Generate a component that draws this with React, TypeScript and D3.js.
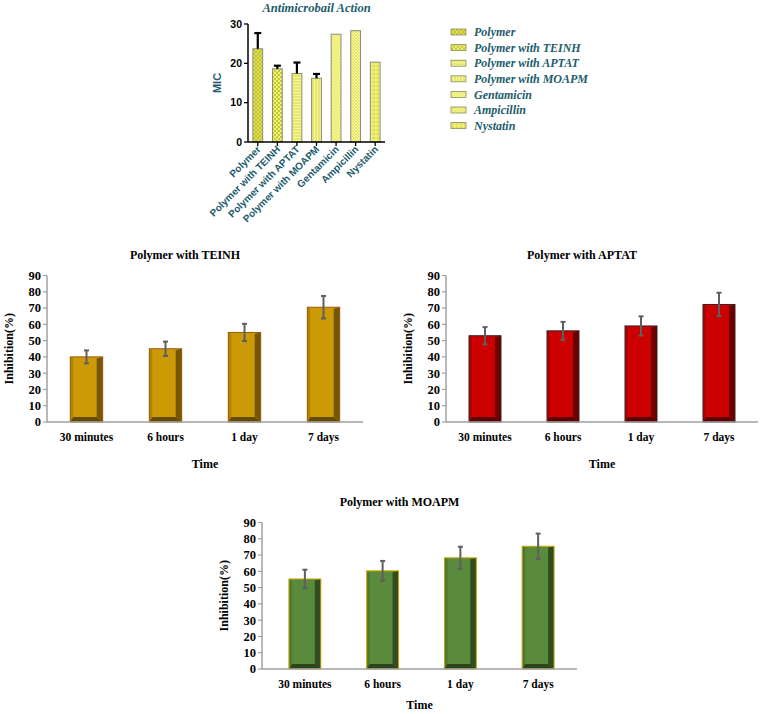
import React from "react";
import * as d3 from "d3";

// top chart data (MIC)
const micCategories = [
  "Polymer",
  "Polymer with TEINH",
  "Polymer with APTAT",
  "Polymer with MOAPM",
  "Gentamicin",
  "Ampicillin",
  "Nystatin",
];
const micValues = [23.7, 18.6, 17.4, 16.2, 27.4, 28.3, 20.3];
const micErrors = [4.0, 0.8, 2.8, 1.1, 0, 0, 0];
const micTicks = [0, 10, 20, 30];

// inhibition charts data
const timeLabels = ["30 minutes", "6 hours", "1 day", "7 days"];
const teinhValues = [40, 45, 55, 70.5];
const teinhErrors = [4, 4.4, 5.3, 6.9];
const aptatValues = [53, 56, 59, 72.2];
const aptatErrors = [5.3, 5.5, 5.9, 7.2];
const moapmValues = [55.3, 60.3, 68.3, 75.4];
const moapmErrors = [5.7, 6.1, 6.8, 7.8];
const inhibitionTicks = [0, 10, 20, 30, 40, 50, 60, 70, 80, 90];

const TEAL = "#1d5c6c";
const SERIF = "'Liberation Serif', 'Times New Roman', serif";
const SANS = "'Liberation Sans', Arial, sans-serif";

const patternIds = ["pPoly", "pTeinh", "pAptat", "pMoapm", "pGenta", "pAmpi", "pNyst"];

const Patterns = () => (
  <defs>
    <pattern id="pPoly" width="4" height="4" patternUnits="userSpaceOnUse">
      <rect width="4" height="4" fill="#dede52" />
      <path d="M0,4 L4,0 M0,0 L4,4" stroke="#b8b82e" strokeWidth="0.7" />
    </pattern>
    <pattern id="pTeinh" width="4" height="4" patternUnits="userSpaceOnUse">
      <rect width="4" height="4" fill="#f0f080" />
      <rect width="2" height="2" fill="#c8c830" />
      <rect x="2" y="2" width="2" height="2" fill="#c8c830" />
    </pattern>
    <pattern id="pAptat" width="3" height="3" patternUnits="userSpaceOnUse">
      <rect width="3" height="3" fill="#f8f890" />
      <path d="M0,1 L3,1" stroke="#d4d45a" strokeWidth="1" />
    </pattern>
    <pattern id="pMoapm" width="3" height="3" patternUnits="userSpaceOnUse">
      <rect width="3" height="3" fill="#f8f890" />
      <path d="M1,0 L1,3" stroke="#d4d45a" strokeWidth="1" />
    </pattern>
    <pattern id="pGenta" width="3" height="3" patternUnits="userSpaceOnUse">
      <rect width="3" height="3" fill="#f8f88e" />
      <path d="M0,3 L3,0" stroke="#dcdc60" strokeWidth="0.8" />
    </pattern>
    <pattern id="pAmpi" width="3" height="3" patternUnits="userSpaceOnUse">
      <rect width="3" height="3" fill="#f6f68a" />
      <path d="M0,0 L3,3" stroke="#d6d65c" strokeWidth="0.8" />
    </pattern>
    <pattern id="pNyst" width="4" height="4" patternUnits="userSpaceOnUse">
      <rect width="4" height="4" fill="#f6f67e" />
      <path d="M0,2 L4,2 M2,0 L2,4" stroke="#cfcf4a" strokeWidth="0.8" />
    </pattern>
  </defs>
);

const MicChart = () => {
  const left = 248;
  const right = 385;
  const top = 24;
  const bottom = 142;
  const x = d3.scaleBand().domain(micCategories).range([left, right]).paddingInner(0.5).paddingOuter(0.25);
  const y = d3.scaleLinear().domain([0, 30]).range([bottom, top]);
  return (
    <g>
      <text x={(left + right) / 2} y={12} textAnchor="middle" fontFamily={SERIF} fontWeight="bold" fontStyle="italic" fontSize={12.5} fill={TEAL}>
        Antimicrobail Action
      </text>
      {micCategories.map((c, i) => {
        const bx = x(c)!;
        const cx = bx + x.bandwidth() / 2;
        const yv = y(micValues[i]);
        const ye = y(micValues[i] + micErrors[i]);
        return (
          <g key={c}>
            <rect x={bx} y={yv} width={x.bandwidth()} height={bottom - yv} fill={"url(#" + patternIds[i] + ")"} stroke="#8c8c78" strokeWidth={1} />
            {micErrors[i] > 0 && (
              <g stroke="#000" strokeWidth={2.2}>
                <line x1={cx} x2={cx} y1={yv} y2={ye} />
                <line x1={cx - 3.5} x2={cx + 3.5} y1={ye} y2={ye} />
              </g>
            )}
            <line x1={cx} x2={cx} y1={bottom} y2={bottom + 4} stroke="#000" strokeWidth={1.3} />
            <text transform={`translate(${cx + 3.5},${bottom + 8}) rotate(-45)`} textAnchor="end" fontFamily={SANS} fontWeight="bold" fontSize={10} fill={TEAL}>
              {c}
            </text>
          </g>
        );
      })}
      <line x1={left} x2={right} y1={bottom} y2={bottom} stroke="#000" strokeWidth={1.5} />
      <line x1={left} x2={left} y1={top} y2={bottom} stroke="#000" strokeWidth={1.5} />
      {micTicks.map((t) => (
        <g key={t}>
          <line x1={left - 4} x2={left} y1={y(t)} y2={y(t)} stroke="#000" strokeWidth={1.3} />
          <text x={left - 6} y={y(t)} dy="0.35em" textAnchor="end" fontFamily={SANS} fontWeight="bold" fontSize={10.5} fill="#000">
            {t}
          </text>
        </g>
      ))}
      <text transform={`translate(221,${(top + bottom) / 2}) rotate(-90)`} textAnchor="middle" fontFamily={SANS} fontWeight="bold" fontSize={11} fill={TEAL}>
        MIC
      </text>
      {/* legend */}
      {micCategories.map((c, i) => (
        <g key={"lg" + c} transform={`translate(451,${32 + i * 15.6})`}>
          <rect x={0} y={-3} width={15} height={6} fill={"url(#" + patternIds[i] + ")"} stroke="#8c8c60" strokeWidth={0.8} />
          <text x={23} y={0} dy="0.35em" fontFamily={SERIF} fontWeight="bold" fontStyle="italic" fontSize={12} fill={TEAL}>
            {c}
          </text>
        </g>
      ))}
    </g>
  );
};

type BarColors = { face: string; left: string; right: string; bottom: string; border: string };

const Bar3D = ({ x, y, w, h, c }: { x: number; y: number; w: number; h: number; c: BarColors }) => {
  const bl = 3;
  const br = 6;
  const bb = 5;
  const bt = 1.5;
  return (
    <g>
      <rect x={x} y={y} width={w} height={h} fill={c.face} />
      <polygon points={`${x},${y} ${x + bl},${y + bt} ${x + bl},${y + h - bb} ${x},${y + h}`} fill={c.left} />
      <polygon points={`${x + w},${y} ${x + w - br},${y + bt} ${x + w - br},${y + h - bb} ${x + w},${y + h}`} fill={c.right} />
      <polygon points={`${x},${y + h} ${x + bl},${y + h - bb} ${x + w - br},${y + h - bb} ${x + w},${y + h}`} fill={c.bottom} />
      <rect x={x} y={y} width={w} height={h} fill="none" stroke={c.border} strokeWidth={1} />
    </g>
  );
};

const InhibitionChart = ({
  title,
  values,
  errors,
  axisX,
  bandStart,
  axisY,
  axisEnd,
  colors,
}: {
  title: string;
  values: number[];
  errors: number[];
  axisX: number;
  bandStart: number;
  axisY: number;
  axisEnd: number;
  colors: BarColors;
}) => {
  const top = axisY - 146.5;
  const x = d3.scaleBand().domain(timeLabels).range([bandStart, axisEnd]).paddingInner(0.59).paddingOuter(0.295);
  const y = d3.scaleLinear().domain([0, 90]).range([axisY, top]);
  const mid = (axisX + axisEnd) / 2;
  return (
    <g>
      <text x={mid - 20} y={top - 17} textAnchor="middle" fontFamily={SERIF} fontWeight="bold" fontSize={12} fill="#000">
        {title}
      </text>
      {timeLabels.map((t, i) => {
        const bx = x(t)!;
        const bw = x.bandwidth();
        const cx = bx + bw / 2;
        const yv = y(values[i]);
        const hi = y(values[i] + errors[i]);
        const lo = y(values[i] - errors[i]);
        return (
          <g key={t}>
            <Bar3D x={bx} y={yv} w={bw} h={axisY - yv} c={colors} />
            <g stroke="#5f5f5f" strokeWidth={2}>
              <line x1={cx} x2={cx} y1={hi} y2={lo} />
              <line x1={cx - 2.5} x2={cx + 2.5} y1={hi} y2={hi} />
              <line x1={cx - 2.5} x2={cx + 2.5} y1={lo} y2={lo} />
            </g>
            <text x={cx} y={axisY + 19} textAnchor="middle" fontFamily={SERIF} fontWeight="bold" fontSize={11.5} fill="#000">
              {t}
            </text>
          </g>
        );
      })}
      <line x1={axisX} x2={axisEnd} y1={axisY} y2={axisY} stroke="#a0a0a0" strokeWidth={1.5} />
      <line x1={axisX} x2={axisX} y1={top} y2={axisY} stroke="#a0a0a0" strokeWidth={1.5} />
      {inhibitionTicks.map((t) => (
        <g key={t}>
          <line x1={axisX - 4} x2={axisX} y1={y(t)} y2={y(t)} stroke="#a0a0a0" strokeWidth={1.2} />
          <text x={axisX - 6} y={y(t)} dy="0.35em" textAnchor="end" fontFamily={SERIF} fontWeight="bold" fontSize={12.5} fill="#000">
            {t}
          </text>
        </g>
      ))}
      <text transform={`translate(${axisX - 34},${(top + axisY) / 2}) rotate(-90)`} textAnchor="middle" fontFamily={SERIF} fontWeight="bold" fontSize={12} fill="#000">
        Inhibition(%)
      </text>
      <text x={mid} y={Math.min(axisY + 46, 709)} textAnchor="middle" fontFamily={SERIF} fontWeight="bold" fontSize={12} fill="#000">
        Time
      </text>
    </g>
  );
};

const teinhColors: BarColors = { face: "#cc9a06", left: "#b08400", right: "#745700", bottom: "#654b00", border: "#9a5a10" };
const aptatColors: BarColors = { face: "#cc0000", left: "#b00000", right: "#6c0000", bottom: "#5c0000", border: "#3a2020" };
const moapmColors: BarColors = { face: "#5a8a3b", left: "#4c7732", right: "#314d20", bottom: "#2c441c", border: "#c8a800" };

export default function App() {
  return (
    <svg width={761} height={714} style={{ position: "absolute", left: 0, top: 0, background: "#fff" }}>
      <Patterns />
      <MicChart />
      <InhibitionChart title="Polymer with TEINH" values={teinhValues} errors={teinhErrors} axisX={47} bandStart={47} axisY={422} axisEnd={363} colors={teinhColors} />
      <InhibitionChart title="Polymer with APTAT" values={aptatValues} errors={aptatErrors} axisX={446} bandStart={446} axisY={422} axisEnd={758} colors={aptatColors} />
      <InhibitionChart title="Polymer with MOAPM" values={moapmValues} errors={moapmErrors} axisX={262} bandStart={266} axisY={669} axisEnd={577} colors={moapmColors} />
    </svg>
  );
}
